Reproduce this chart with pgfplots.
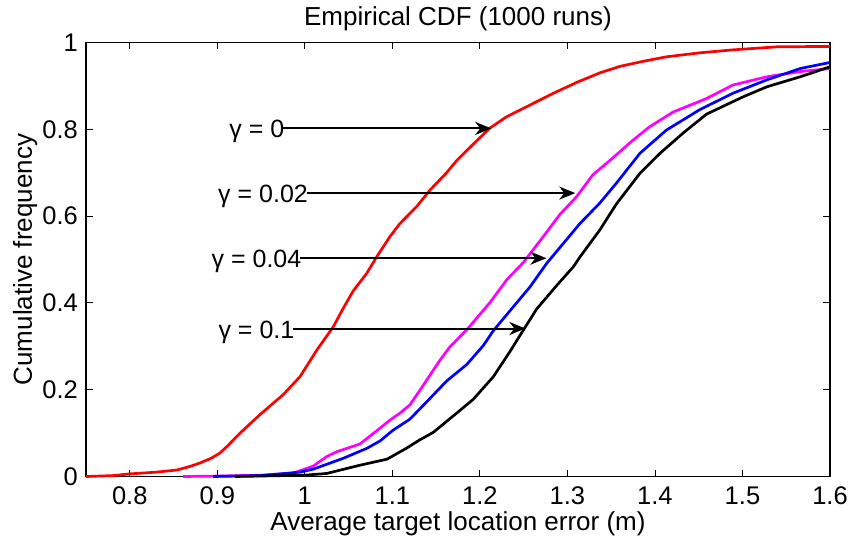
\documentclass[border=0pt]{standalone}
\usepackage{pgfplots}
\pgfplotsset{compat=1.18}
\usepackage{fontspec}
\setmainfont{Liberation Sans}
\usetikzlibrary{arrows.meta}
\definecolor{mred}{RGB}{255,0,0}
\definecolor{mmag}{RGB}{255,0,255}
\definecolor{mblue}{RGB}{0,0,255}
\begin{document}
\begin{tikzpicture}
\useasboundingbox (-86bp,-67.5bp) rectangle (766bp,476.5bp);
\begin{axis}[
  at={(0,0)}, anchor=south west,
  width=744bp, height=434bp, scale only axis,
  xmin=0.75, xmax=1.6, ymin=0, ymax=1,
  xtick={0.8,0.9,1,1.1,1.2,1.3,1.4,1.5,1.6},
  ytick={0,0.2,0.4,0.6,0.8,1},
  tick align=inside, tick pos=both,
  major tick length=7bp,
  tick style={line width=0.8bp, black},
  axis line style={line width=1.2bp, black},
  clip=false,
  /pgf/number format/assume math mode=true,
  tick label style={font=\fontsize{25.5bp}{30bp}\selectfont, inner sep=0pt},
  xticklabel style={anchor=base, yshift=-27.5bp},
  yticklabel style={anchor=east, xshift=-8bp},
  title={Empirical CDF (1000 runs)},
  xlabel={Average target location error (m)},
  ylabel={Cumulative frequency},
  every axis title/.style={at={(axis description cs:0.5,1.0403)}, anchor=base, inner sep=0pt, font=\fontsize{26bp}{30bp}\selectfont},
  every axis x label/.style={at={(axis description cs:0.5,-0.1233)}, anchor=base, inner sep=0pt, font=\fontsize{26bp}{30bp}\selectfont},
  every axis y label/.style={at={(axis description cs:-0.0726,0.5)}, rotate=90, anchor=base, inner sep=0pt, font=\fontsize{26bp}{30bp}\selectfont},
  every axis plot/.append style={line width=2.7bp, line join=round},
]
\addplot[mred] coordinates {
(0.75,0) (0.78,0.002) (0.80,0.006) (0.83,0.01) (0.854,0.015) (0.87,0.024) (0.88,0.031)
(0.893,0.042) (0.903,0.054) (0.911,0.069) (0.926,0.100) (0.949,0.143)
(0.968,0.176) (0.975,0.188) (0.9945,0.230) (1.0136,0.291) (1.0325,0.345) (1.044,0.388)
(1.0554,0.428) (1.0707,0.468) (1.0821,0.506) (1.0973,0.553) (1.1087,0.583) (1.1278,0.622)
(1.143,0.660) (1.162,0.700) (1.1735,0.728) (1.1925,0.766) (1.2116,0.803) (1.2306,0.829)
(1.2573,0.856) (1.284,0.883) (1.3106,0.908) (1.337,0.930) (1.36,0.945) (1.385,0.956)
(1.413,0.967) (1.45,0.976) (1.489,0.983) (1.539,0.990) (1.6,0.991)
};
\addplot[mmag] coordinates {
(0.861,0) (0.90,0.001) (0.95,0.003) (0.987,0.008) (1.0097,0.024) (1.025,0.046)
(1.0364,0.057) (1.063,0.075) (1.082,0.105) (1.0973,0.130) (1.1087,0.146) (1.120,0.165)
(1.1316,0.199) (1.1544,0.268) (1.1659,0.299) (1.185,0.338) (1.2002,0.374) (1.2116,0.401)
(1.2306,0.453) (1.2496,0.493) (1.2725,0.553) (1.2915,0.604) (1.3106,0.645) (1.329,0.695)
(1.349,0.729) (1.375,0.775) (1.394,0.806) (1.421,0.840)
(1.459,0.871) (1.489,0.902) (1.528,0.921) (1.566,0.933) (1.6,0.94)
};
\addplot[mblue] coordinates {
(0.895,0) (0.95,0.002) (0.994,0.01) (1.0097,0.017) (1.044,0.042) (1.071,0.065)
(1.086,0.082) (1.101,0.107) (1.120,0.132) (1.1392,0.172) (1.162,0.220) (1.185,0.258)
(1.2040,0.302) (1.2154,0.336) (1.2382,0.391) (1.2573,0.437) (1.2763,0.491) (1.2953,0.537)
(1.3144,0.583) (1.337,0.630) (1.356,0.676) (1.383,0.745) (1.413,0.798)
(1.451,0.845) (1.489,0.883) (1.528,0.914) (1.566,0.940) (1.6,0.954)
};
\addplot[black] coordinates {
(0.92,0) (1.0,0.003) (1.025,0.007) (1.063,0.026) (1.094,0.040) (1.116,0.065)
(1.131,0.084) (1.147,0.102) (1.162,0.127) (1.1735,0.146) (1.1925,0.178)
(1.2154,0.230) (1.2344,0.288) (1.2458,0.325) (1.2649,0.386) (1.2877,0.440) (1.3067,0.483)
(1.3144,0.506) (1.337,0.568) (1.356,0.628) (1.383,0.699) (1.406,0.745) (1.432,0.791)
(1.459,0.835) (1.501,0.875) (1.528,0.898) (1.566,0.921) (1.6,0.944)
};
\tikzset{garrow/.style={-{Stealth[length=16bp,width=13bp,inset=5bp]}, line width=2bp, black},
         glabel/.style={anchor=base east, inner sep=0pt, xshift=1.5bp, yshift=-9.5bp, font=\fontsize{25bp}{30bp}\selectfont}}
\draw[garrow] (axis cs:0.975,0.802) -- (axis cs:1.213,0.802);
\node[glabel] at (axis cs:0.975,0.802) {γ = 0};
\draw[garrow] (axis cs:1.002,0.653) -- (axis cs:1.309,0.653);
\node[glabel] at (axis cs:1.002,0.653) {γ = 0.02};
\draw[garrow] (axis cs:0.9945,0.503) -- (axis cs:1.276,0.503);
\node[glabel] at (axis cs:0.9945,0.503) {γ = 0.04};
\draw[garrow] (axis cs:0.9865,0.341) -- (axis cs:1.252,0.341);
\node[glabel] at (axis cs:0.9865,0.341) {γ = 0.1};
\end{axis}
\end{tikzpicture}
\end{document}
